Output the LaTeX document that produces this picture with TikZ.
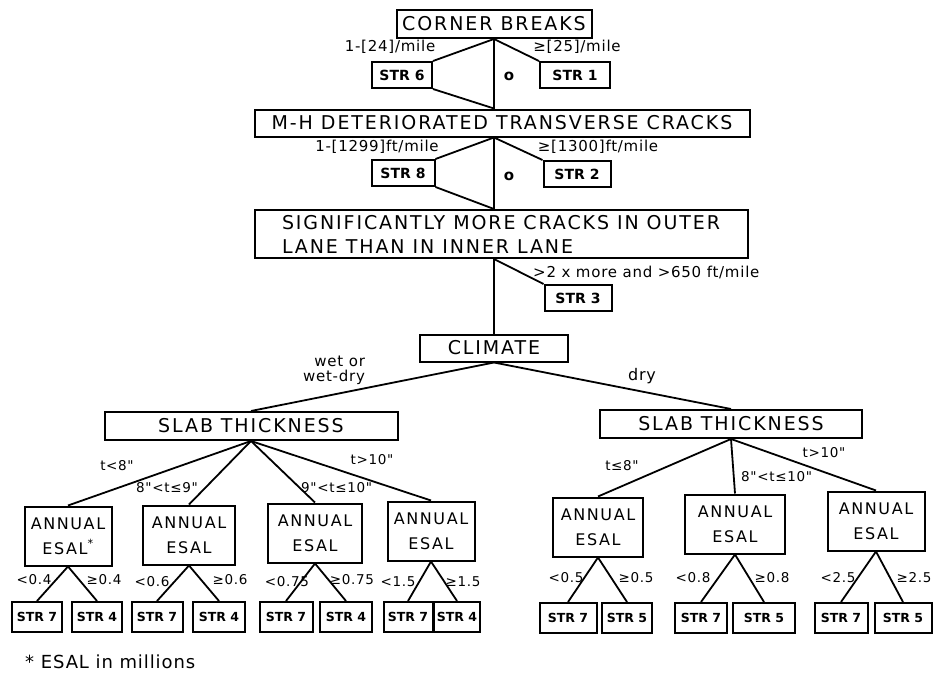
\documentclass[tikz,border=0pt]{standalone}
\usepackage{fontspec}
\setmainfont{DejaVu Sans}
\newfontfamily\boxfont[LetterSpace=10]{DejaVu Sans}
\newfontfamily\lblfont[LetterSpace=5]{DejaVu Sans}
\usetikzlibrary{positioning}

\tikzstyle{critbox} = [draw=black, line width=2pt, rectangle, minimum height=27pt, inner sep=2pt,
    font=\boxfont\fontsize{19}{24}\selectfont]
\tikzstyle{esalbox} = [critbox, align=center, minimum height=59pt, font=\boxfont\fontsize{16}{25}\selectfont]
\tikzstyle{strbox} = [draw=black, line width=2pt, rectangle, minimum height=26pt, inner sep=1pt,
    font=\bfseries\fontsize{14}{16}\selectfont]
\tikzstyle{leafbox} = [strbox, minimum height=30pt, font=\bfseries\fontsize{12.5}{14}\selectfont]
\tikzstyle{lbl} = [inner sep=1pt, font=\lblfont\fontsize{15}{16}\selectfont]
\tikzstyle{cut} = [inner sep=1pt, font=\lblfont\fontsize{13.5}{16}\selectfont]
\tikzstyle{conn} = [line width=1.8pt]

\begin{document}
\begin{tikzpicture}[x=1pt, y=-1pt]
\useasboundingbox (0,0) rectangle (937,677);

% main stem
\node[critbox, minimum width=195pt, minimum height=28pt] (cb) at (494,24) {CORNER BREAKS};
\node[critbox, minimum width=495pt] (mh) at (502,123) {M-H DETERIORATED TRANSVERSE CRACKS};
\node[critbox, minimum width=493pt, minimum height=48pt, align=left] (sig) at (501,234)
    {SIGNIFICANTLY MORE CRACKS IN OUTER\\LANE THAN IN INNER LANE};
\node[critbox, minimum width=148pt] (clim) at (494,348) {CLIMATE};

\node[strbox, minimum width=60pt] (str6) at (402,75) {STR 6};
\node[strbox, minimum width=70pt] (str1) at (575,75) {STR 1};
\node[strbox, minimum width=63pt] (str8) at (403,173) {STR 8};
\node[strbox, minimum width=67pt] (str2) at (577,174) {STR 2};
\node[strbox, minimum width=67pt] (str3) at (578,298) {STR 3};

\node[lbl] (l24) at (390,47) {1-[24]/mile};
\node[lbl] (l25) at (577,47) {≥[25]/mile};
\node[lbl, font=\bfseries\fontsize{15}{16}\selectfont] (z1) at (509,76) {o};
\node[lbl] (l1299) at (377,147) {1-[1299]ft/mile};
\node[lbl] (l1300) at (598,147) {≥[1300]ft/mile};
\node[lbl, font=\bfseries\fontsize{15}{16}\selectfont] (z2) at (509,176) {o};
\node[lbl, anchor=west] (l650) at (532,272) {>2 x more and >650 ft/mile};

\draw[conn] (cb.south) -- (cb.south |- mh.north);
\draw[conn] (cb.south) -- (str6.north east) (str6.south east) -- (cb.south |- mh.north);
\draw[conn] (cb.south) -- (str1.north west);
\draw[conn] (cb.south |- mh.south) -- (cb.south |- sig.north);
\draw[conn] (cb.south |- mh.south) -- (str8.north east) (str8.south east) -- (cb.south |- sig.north);
\draw[conn] (cb.south |- mh.south) -- (str2.north west);
\draw[conn] (cb.south |- sig.south) -- (clim.north);
\draw[conn] (cb.south |- sig.south) -- (str3.north west);

% climate split
\node[critbox, minimum width=293pt, minimum height=28pt] (slabl) at (251,426) {SLAB THICKNESS};
\node[critbox, minimum width=262pt, minimum height=28pt] (slabr) at (731,424) {SLAB THICKNESS};
\node[lbl, align=right, font=\lblfont\fontsize{15}{15}\selectfont] (wet) at (334,370) {wet or\\wet-dry};
\node[lbl, font=\lblfont\fontsize{16}{16}\selectfont] (dry) at (642,376) {dry};
\draw[conn] (clim.south) -- (slabl.north);
\draw[conn] (clim.south) -- (slabr.north);

% wet or wet-dry
\node[esalbox, minimum width=87pt] (a1) at (68,536) {ANNUAL\\ESAL\textsuperscript{*}};
\node[esalbox, minimum width=92pt] (a2) at (189,535) {ANNUAL\\ESAL};
\node[esalbox, minimum width=94pt] (a3) at (315,533) {ANNUAL\\ESAL};
\node[esalbox, minimum width=87pt] (a4) at (431,531) {ANNUAL\\ESAL};
\node[cut] (ta1) at (117,466) {t<8"};
\node[cut, anchor=east] (ta2) at (199,488) {8"<t≤9"};
\node[cut, anchor=west] (ta3) at (300,488) {9"<t≤10"};
\node[cut] (ta4) at (372,460) {t>10"};
\draw[conn] (slabl.south) -- (a1.north);
\draw[conn] (slabl.south) -- (a2.north);
\draw[conn] (slabl.south) -- (a3.north);
\draw[conn] (slabl.south) -- (a4.north);

% dry
\node[esalbox, minimum width=90pt] (b1) at (598,527) {ANNUAL\\ESAL};
\node[esalbox, minimum width=100pt] (b2) at (735,524) {ANNUAL\\ESAL};
\node[esalbox, minimum width=97pt] (b3) at (876,521) {ANNUAL\\ESAL};
\node[cut] (tb1) at (622,466) {t≤8"};
\node[cut, anchor=west] (tb2) at (740,477) {8"<t≤10"};
\node[cut] (tb3) at (824,453) {t>10"};
\draw[conn] (slabr.south) -- (b1.north);
\draw[conn] (slabr.south) -- (b2.north);
\draw[conn] (slabr.south) -- (b3.north);

% structures
\node[leafbox, minimum width=50pt] (s1a) at (37,617) {STR 7};
\node[leafbox, minimum width=50pt] (s1b) at (97,617) {STR 4};
\node[leafbox, minimum width=51pt] (s2a) at (157,617) {STR 7};
\node[leafbox, minimum width=52pt] (s2b) at (219,617) {STR 4};
\node[leafbox, minimum width=53pt] (s3a) at (286,617) {STR 7};
\node[leafbox, minimum width=52pt] (s3b) at (346,617) {STR 4};
\node[leafbox, minimum width=49pt] (s4a) at (408,617) {STR 7};
\node[leafbox, minimum width=46pt] (s4b) at (457,617) {STR 4};
\node[leafbox, minimum width=57pt] (r1a) at (568,618) {STR 7};
\node[leafbox, minimum width=50pt] (r1b) at (627,618) {STR 5};
\node[leafbox, minimum width=52pt] (r2a) at (701,618) {STR 7};
\node[leafbox, minimum width=62pt] (r2b) at (764,618) {STR 5};
\node[leafbox, minimum width=53pt] (r3a) at (841,618) {STR 7};
\node[leafbox, minimum width=57pt] (r3b) at (903,618) {STR 5};

\node[cut] (e1a) at (34,580) {<0.4};
\node[cut] (e1b) at (104,580) {≥0.4};
\node[cut] (e2a) at (152,582) {<0.6};
\node[cut] (e2b) at (230,580) {≥0.6};
\node[cut] (e3a) at (287,582) {<0.75};
\node[cut] (e3b) at (352,580) {≥0.75};
\node[cut] (e4a) at (398,582) {<1.5};
\node[cut] (e4b) at (463,582) {≥1.5};
\node[cut] (f1a) at (566,578) {<0.5};
\node[cut] (f1b) at (636,578) {≥0.5};
\node[cut] (f2a) at (693,578) {<0.8};
\node[cut] (f2b) at (772,578) {≥0.8};
\node[cut] (f3a) at (838,578) {<2.5};
\node[cut] (f3b) at (914,578) {≥2.5};

\draw[conn] (a1.south) -- (s1a.north) (a1.south) -- (s1b.north);
\draw[conn] (a2.south) -- (s2a.north) (a2.south) -- (s2b.north);
\draw[conn] (a3.south) -- (s3a.north) (a3.south) -- (s3b.north);
\draw[conn] (a4.south) -- (s4a.north) (a4.south) -- (s4b.north);
\draw[conn] (b1.south) -- (r1a.north) (b1.south) -- (r1b.north);
\draw[conn] (b2.south) -- (r2a.north) (b2.south) -- (r2b.north);
\draw[conn] (b3.south) -- (r3a.north) (b3.south) -- (r3b.north);

\node[lbl, anchor=west, font=\lblfont\fontsize{18}{20}\selectfont] (note) at (24,662) {* ESAL in millions};
\end{tikzpicture}
\end{document}
